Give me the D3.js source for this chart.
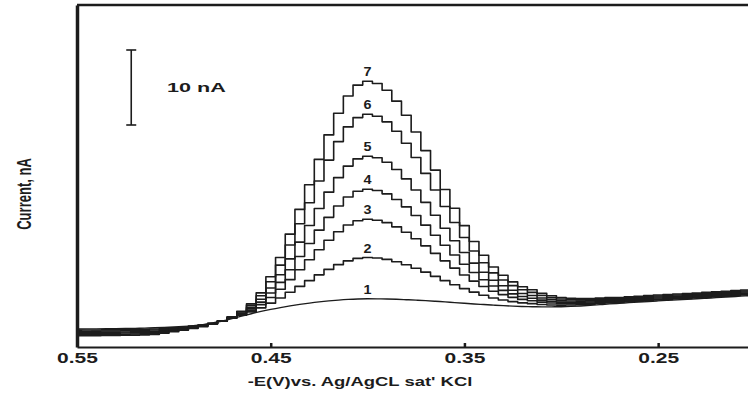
<!DOCTYPE html>
<html>
<head>
<meta charset="utf-8">
<script src="https://cdn.jsdelivr.net/npm/d3@7"></script>
<style>
  html, body { margin: 0; padding: 0; background: #fff; }
  svg { display: block; font-family: "Liberation Sans", Arial, sans-serif; }
</style>
</head>
<body>
<svg id="chart" width="748" height="394"></svg>
<script>
// potential axis, -E (V), one point per 5 mV step
const potentials = [
  0.550, 0.545, 0.540, 0.535, 0.530, 0.525, 0.520, 0.515, 0.510, 0.505,
  0.500, 0.495, 0.490, 0.485, 0.480, 0.475, 0.470, 0.465, 0.460, 0.455,
  0.450, 0.445, 0.440, 0.435, 0.430, 0.425, 0.420, 0.415, 0.410, 0.405,
  0.400, 0.395, 0.390, 0.385, 0.380, 0.375, 0.370, 0.365, 0.360, 0.355,
  0.350, 0.345, 0.340, 0.335, 0.330, 0.325, 0.320, 0.315, 0.310, 0.305,
  0.300, 0.295, 0.290, 0.285, 0.280, 0.275, 0.270, 0.265, 0.260, 0.255,
  0.250, 0.245, 0.240, 0.235, 0.230, 0.225, 0.220, 0.215, 0.210, 0.205,
  0.200
];

// current, nA (relative to left baseline)
const curve1 = [
  0.10, 0.11, 0.12, 0.13, 0.14, 0.16, 0.19, 0.22, 0.26, 0.30,
  0.36, 0.44, 0.54, 0.68, 0.88, 1.15, 1.48, 1.82, 2.14, 2.45,
  2.72, 2.96, 3.18, 3.38, 3.56, 3.72, 3.85, 3.96, 4.05, 4.11,
  4.13, 4.12, 4.10, 4.06, 4.01, 3.95, 3.88, 3.80, 3.71, 3.62,
  3.53, 3.44, 3.36, 3.28, 3.21, 3.15, 3.10, 3.07, 3.05, 3.05,
  3.07, 3.11, 3.17, 3.25, 3.35, 3.45, 3.53, 3.61, 3.69, 3.77,
  3.85, 3.92, 3.99, 4.06, 4.13, 4.20, 4.28, 4.36, 4.44, 4.52,
  4.60
];
const curve2 = [
  -0.05, -0.04, -0.03, -0.02, -0.01, 0.01, 0.04, 0.07, 0.11, 0.17,
  0.26, 0.36, 0.48, 0.64, 0.86, 1.15, 1.53, 1.94, 2.39, 2.92,
  3.55, 4.23, 5.00, 5.78, 6.55, 7.32, 8.05, 8.68, 9.19, 9.52,
  9.63, 9.57, 9.38, 9.07, 8.67, 8.20, 7.68, 7.12, 6.55, 6.01,
  5.49, 5.02, 4.61, 4.24, 3.97, 3.75, 3.59, 3.48, 3.37, 3.31,
  3.29, 3.30, 3.34, 3.40, 3.50, 3.59, 3.66, 3.74, 3.82, 3.90,
  3.98, 4.05, 4.12, 4.19, 4.26, 4.33, 4.41, 4.49, 4.57, 4.65,
  4.73
];
const curve3 = [
  -0.20, -0.19, -0.18, -0.17, -0.16, -0.14, -0.11, -0.08, -0.04, 0.05,
  0.15, 0.28, 0.42, 0.59, 0.84, 1.16, 1.57, 2.05, 2.62, 3.35,
  4.31, 5.40, 6.68, 8.01, 9.33, 10.66, 11.94, 13.07, 13.96, 14.53,
  14.73, 14.61, 14.28, 13.72, 13.00, 12.14, 11.19, 10.19, 9.19, 8.22,
  7.31, 6.48, 5.77, 5.14, 4.69, 4.32, 4.05, 3.87, 3.68, 3.56,
  3.50, 3.49, 3.50, 3.55, 3.64, 3.73, 3.79, 3.87, 3.95, 4.03,
  4.11, 4.18, 4.25, 4.32, 4.39, 4.46, 4.54, 4.62, 4.70, 4.78,
  4.86
];
const curve4 = [
  -0.35, -0.34, -0.33, -0.32, -0.31, -0.29, -0.26, -0.23, -0.19, -0.08,
  0.05, 0.19, 0.36, 0.55, 0.82, 1.15, 1.60, 2.14, 2.80, 3.69,
  4.91, 6.32, 8.00, 9.76, 11.50, 13.28, 14.99, 16.50, 17.70, 18.46,
  18.73, 18.57, 18.12, 17.36, 16.39, 15.24, 13.95, 12.60, 11.26, 9.96,
  8.74, 7.63, 6.67, 5.84, 5.25, 4.78, 4.43, 4.21, 3.95, 3.79,
  3.69, 3.66, 3.66, 3.70, 3.78, 3.87, 3.92, 4.00, 4.08, 4.16,
  4.24, 4.31, 4.38, 4.45, 4.52, 4.59, 4.67, 4.75, 4.83, 4.91,
  4.99
];
const curve5 = [
  -0.50, -0.49, -0.48, -0.47, -0.46, -0.44, -0.41, -0.38, -0.34, -0.21,
  -0.06, 0.11, 0.30, 0.50, 0.80, 1.15, 1.63, 2.24, 3.00, 4.07,
  5.57, 7.33, 9.45, 11.68, 13.90, 16.17, 18.35, 20.28, 21.82, 22.79,
  23.13, 22.93, 22.34, 21.37, 20.12, 18.64, 16.99, 15.26, 13.53, 11.87,
  10.31, 8.89, 7.67, 6.61, 5.87, 5.27, 4.84, 4.56, 4.24, 4.03,
  3.89, 3.84, 3.82, 3.85, 3.93, 4.01, 4.05, 4.13, 4.21, 4.29,
  4.37, 4.44, 4.51, 4.58, 4.65, 4.72, 4.80, 4.88, 4.96, 5.04,
  5.12
];
const curve6 = [
  -0.65, -0.64, -0.63, -0.62, -0.61, -0.59, -0.56, -0.53, -0.49, -0.34,
  -0.17, 0.03, 0.24, 0.46, 0.78, 1.16, 1.68, 2.36, 3.25, 4.54,
  6.41, 8.62, 11.30, 14.13, 16.94, 19.83, 22.62, 25.09, 27.05, 28.29,
  28.73, 28.47, 27.72, 26.47, 24.87, 22.97, 20.85, 18.63, 16.43, 14.30,
  12.31, 10.50, 8.94, 7.59, 6.64, 5.89, 5.33, 4.98, 4.56, 4.29,
  4.11, 4.03, 3.99, 4.00, 4.07, 4.15, 4.18, 4.26, 4.34, 4.42,
  4.50, 4.57, 4.64, 4.71, 4.78, 4.85, 4.93, 5.01, 5.09, 5.17,
  5.25
];
const curve7 = [
  -0.80, -0.79, -0.78, -0.77, -0.76, -0.74, -0.71, -0.68, -0.64, -0.47,
  -0.27, -0.06, 0.18, 0.41, 0.76, 1.16, 1.72, 2.46, 3.45, 4.92,
  7.07, 9.63, 12.75, 16.05, 19.34, 22.72, 25.98, 28.87, 31.17, 32.62,
  33.13, 32.83, 31.94, 30.48, 28.60, 26.37, 23.89, 21.29, 18.70, 16.21,
  13.88, 11.76, 9.94, 8.36, 7.26, 6.38, 5.74, 5.33, 4.85, 4.53,
  4.31, 4.21, 4.15, 4.15, 4.22, 4.29, 4.31, 4.39, 4.47, 4.55,
  4.63, 4.70, 4.77, 4.84, 4.91, 4.98, 5.06, 5.14, 5.22, 5.30,
  5.38
];

const curveLabels = ['1', '2', '3', '4', '5', '6', '7'];
const xTicks = [0.55, 0.45, 0.35, 0.25];
const scaleBarNA = 10;

const series = [curve1, curve2, curve3, curve4, curve5, curve6, curve7].map((vals, i) => ({
  label: curveLabels[i],
  points: potentials.map((e, j) => ({ e: e, v: vals[j] }))
}));

const W = 748, H = 394;
const margin = { top: 5, right: 0, bottom: 47, left: 77 };

const x = d3.scaleLinear().domain([0.55, 0.20]).range([margin.left, 755]);
const y = d3.scaleLinear().domain([-2.3, 43.3]).range([H - margin.bottom, margin.top]);

const svg = d3.select('#chart');
const ink = '#1c1c1c';

svg.append('defs').append('clipPath').attr('id', 'plot')
  .append('rect')
  .attr('x', margin.left).attr('y', margin.top)
  .attr('width', W - margin.left).attr('height', H - margin.bottom - margin.top);

// curves: 1 is smooth, the others show the staircase of the sweep
const plot = svg.append('g').attr('clip-path', 'url(#plot)');
series.forEach((s, i) => {
  const line = d3.line()
    .x(d => x(d.e))
    .y(d => y(d.v))
    .curve(i === 0 ? d3.curveBasis : d3.curveStep);
  plot.append('path')
    .datum(s.points)
    .attr('fill', 'none')
    .attr('stroke', ink)
    .attr('stroke-width', i === 0 ? 1.4 : 1.6)
    .attr('stroke-linejoin', 'round')
    .attr('d', line);
});

// peak labels, placed above the maximum of the peak window
series.forEach(s => {
  const top = s.points
    .filter(d => d.e <= 0.45 && d.e >= 0.35)
    .reduce((a, b) => (b.v > a.v ? b : a));
  svg.append('text')
    .attr('transform', `translate(${x(top.e)},${y(top.v) - 5}) scale(1.2,1)`)
    .attr('text-anchor', 'middle')
    .attr('font-size', 12)
    .attr('font-weight', 'bold')
    .attr('fill', ink)
    .text(s.label);
});

// x axis
const xAxis = d3.axisBottom(x)
  .tickValues(xTicks)
  .tickFormat(d3.format('.2f'))
  .tickSizeInner(-4)
  .tickSizeOuter(0)
  .tickPadding(6);

const gx = svg.append('g')
  .attr('transform', `translate(0,${H - margin.bottom})`)
  .call(xAxis);
gx.select('.domain').attr('stroke', ink).attr('stroke-width', 2.2);
gx.selectAll('.tick line').attr('stroke', ink).attr('stroke-width', 2.5);
gx.selectAll('.tick text')
  .attr('fill', ink)
  .attr('font-size', 14)
  .attr('font-weight', 'bold')
  .attr('font-family', '"Liberation Sans", Arial, sans-serif')
  .attr('transform', 'scale(1.5,1)');

// y axis (no ticks) and top frame line
const gy = svg.append('g')
  .attr('transform', `translate(${margin.left},0)`)
  .call(d3.axisLeft(y).tickValues([]).tickSizeOuter(0));
gy.select('.domain').attr('stroke', ink).attr('stroke-width', 3.5);

svg.append('line')
  .attr('x1', margin.left).attr('x2', W)
  .attr('y1', margin.top).attr('y2', margin.top)
  .attr('stroke', ink).attr('stroke-width', 2.5);

// scale bar
const barX = x(0.522);
const barLo = y(27.3), barHi = y(27.3 + scaleBarNA);
const bar = svg.append('g').attr('stroke', ink).attr('stroke-width', 1.6);
bar.append('line').attr('x1', barX).attr('x2', barX).attr('y1', barLo).attr('y2', barHi);
bar.append('line').attr('x1', barX - 5).attr('x2', barX + 5).attr('y1', barLo).attr('y2', barLo);
bar.append('line').attr('x1', barX - 5).attr('x2', barX + 5).attr('y1', barHi).attr('y2', barHi);

svg.append('text')
  .attr('transform', `translate(167,${(barLo + barHi) / 2 + 4}) scale(1.8,1)`)
  .attr('font-size', 12)
  .attr('font-weight', 'bold')
  .attr('fill', ink)
  .text(scaleBarNA + ' nA');

// axis titles
svg.append('text')
  .attr('transform', 'translate(360,386) scale(1.42,1)')
  .attr('text-anchor', 'middle')
  .attr('font-size', 13)
  .attr('font-weight', 'bold')
  .attr('fill', ink)
  .text("-E(V)vs. Ag/AgCL sat' KCl");

svg.append('text')
  .attr('transform', 'translate(31,194) rotate(-90) scale(0.62,1)')
  .attr('text-anchor', 'middle')
  .attr('font-size', 21)
  .attr('font-weight', 'bold')
  .attr('fill', ink)
  .text('Current, nA');
</script>
</body>
</html>
